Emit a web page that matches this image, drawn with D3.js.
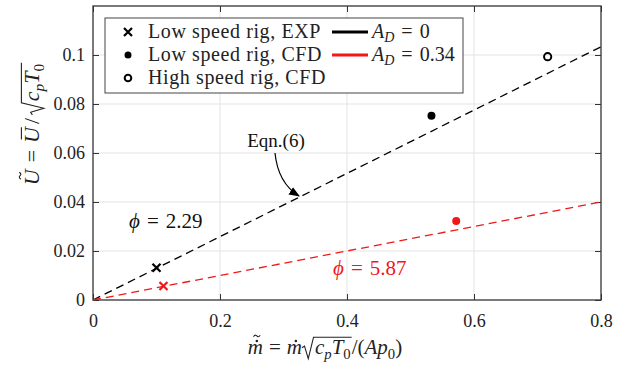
<!DOCTYPE html>
<html>
<head>
<meta charset="utf-8">
<script src="https://cdn.jsdelivr.net/npm/d3@7"></script>
<style>
  body { margin: 0; background: #fff; }
  svg { font-family: "Liberation Serif", "DejaVu Serif", serif; }
  svg text { white-space: pre; }
</style>
</head>
<body>
<svg id="chart" width="626" height="366"></svg>
<script>
// data
var xTicks = [0, 0.2, 0.4, 0.6, 0.8];
var yTicks = [0, 0.02, 0.04, 0.06, 0.08, 0.1];
var slopeNoDiff = 0.1292;   // A_D = 0, phi = 2.29
var slopeDiff = 0.05;       // A_D = 0.34, phi = 5.87
var lineX = [0, 0.8];

var expPts = [ {x: 0.100, y: 0.0132, c: "black"}, {x: 0.111, y: 0.0057, c: "red"} ];
var cfdLowPts = [ {x: 0.533, y: 0.0752, c: "black"}, {x: 0.572, y: 0.0322, c: "red"} ];
var cfdHighPts = [ {x: 0.716, y: 0.0993, c: "black"} ];

var RED = "#f01818";
var FONT = "'Liberation Serif', serif";

var svg = d3.select("#chart");
var margin = {top: 6, right: 25, bottom: 66, left: 93};
var width = 626 - margin.left - margin.right;
var height = 366 - margin.top - margin.bottom;

var x = d3.scaleLinear().domain([0, 0.8]).range([margin.left, margin.left + width]);
var y = d3.scaleLinear().domain([0, 0.12]).range([margin.top + height, margin.top]);

// grid
svg.append("g").selectAll("line").data(xTicks.slice(1, -1)).join("line")
  .attr("x1", d => x(d)).attr("x2", d => x(d))
  .attr("y1", y(0)).attr("y2", y(0.12))
  .attr("stroke", "#e3e3e3").attr("stroke-width", 1);
svg.append("g").selectAll("line").data(yTicks.slice(1)).join("line")
  .attr("x1", x(0)).attr("x2", x(0.8))
  .attr("y1", d => y(d)).attr("y2", d => y(d))
  .attr("stroke", "#e3e3e3").attr("stroke-width", 1);

// axes, ticks pointing inward on all four sides
function styleAxis(g) {
  g.attr("font-family", FONT);
  g.select(".domain").remove();
  g.selectAll("text").attr("font-family", FONT).attr("font-size", 18).attr("fill", "#222");
  g.selectAll("line").attr("stroke", "#333");
}
svg.append("g").attr("transform", "translate(0," + y(0) + ")")
  .call(d3.axisBottom(x).tickValues(xTicks).tickFormat(d3.format("")).tickSizeInner(-6).tickPadding(14))
  .call(styleAxis);
svg.append("g").attr("transform", "translate(0," + y(0.12) + ")")
  .call(d3.axisTop(x).tickValues(xTicks).tickFormat("").tickSizeInner(-6))
  .call(styleAxis);
svg.append("g").attr("transform", "translate(" + x(0) + ",0)")
  .call(d3.axisLeft(y).tickValues(yTicks).tickFormat(d3.format("")).tickSizeInner(-6).tickPadding(8))
  .call(styleAxis);
svg.append("g").attr("transform", "translate(" + x(0.8) + ",0)")
  .call(d3.axisRight(y).tickValues(yTicks).tickFormat("").tickSizeInner(-6))
  .call(styleAxis);

svg.append("rect")
  .attr("x", x(0)).attr("y", y(0.12))
  .attr("width", x(0.8) - x(0)).attr("height", y(0) - y(0.12))
  .attr("fill", "none").attr("stroke", "#333").attr("stroke-width", 1.3);

// dashed fits
var line = d3.line().x(d => x(d[0])).y(d => y(d[1]));
[[slopeNoDiff, "black"], [slopeDiff, RED]].forEach(function(s) {
  svg.append("path")
    .datum(lineX.map(v => [v, v * s[0]]))
    .attr("d", line)
    .attr("fill", "none").attr("stroke", s[1])
    .attr("stroke-width", 1.3).attr("stroke-dasharray", "8,5");
});

// markers
function cross(g, cx, cy, c) {
  var r = 4;
  g.append("path")
    .attr("d", "M" + (cx - r) + "," + (cy - r) + "L" + (cx + r) + "," + (cy + r) +
               "M" + (cx - r) + "," + (cy + r) + "L" + (cx + r) + "," + (cy - r))
    .attr("stroke", c).attr("stroke-width", 2.2).attr("fill", "none");
}
expPts.forEach(d => cross(svg, x(d.x), y(d.y), d.c == "red" ? RED : "#000"));
svg.selectAll(".cfd").data(cfdLowPts).join("circle")
  .attr("cx", d => x(d.x)).attr("cy", d => y(d.y)).attr("r", 4)
  .attr("fill", d => d.c == "red" ? RED : "#000");
svg.selectAll(".hcfd").data(cfdHighPts).join("circle")
  .attr("cx", d => x(d.x)).attr("cy", d => y(d.y)).attr("r", 3.6)
  .attr("fill", "none").attr("stroke", d => d.c).attr("stroke-width", 2);

// small math typesetter, pieces laid out left to right
function mathText(parent, pieces, size, color) {
  var g = parent.append("g");
  var cx = 0, sqrtAt = null;
  pieces.forEach(function(p) {
    if (p.gap) { cx += p.gap; return; }
    if (p.sqrt == "open") { sqrtAt = cx; cx += size * 0.62; return; }
    if (p.sqrt == "close") {
      var t = -size * 0.80;
      g.append("path")
        .attr("d", "M" + (sqrtAt) + "," + (-size * 0.30) + "L" + (sqrtAt + size * 0.12) + "," + (-size * 0.38) +
                   "L" + (sqrtAt + size * 0.30) + "," + (size * 0.22) + "L" + (sqrtAt + size * 0.55) + "," + t +
                   "L" + (cx + 1) + "," + t)
        .attr("fill", "none").attr("stroke", color).attr("stroke-width", 1.1);
      cx += 1;
      return;
    }
    var fs = p.sub ? size * 0.7 : size;
    var dy = p.sub ? size * 0.22 : 0;
    var t = g.append("text").attr("x", cx).attr("y", dy)
      .attr("font-family", FONT)
      .attr("font-size", fs).attr("fill", color)
      .attr("font-style", p.it ? "italic" : "normal").text(p.s);
    var w = t.node().getComputedTextLength();
    var mid = cx + w / 2 + (p.it ? size * 0.07 : 0);
    if (p.bar) {
      g.append("line").attr("x1", mid - w * 0.38).attr("x2", mid + w * 0.38)
        .attr("y1", -size * 0.80).attr("y2", -size * 0.80)
        .attr("stroke", color).attr("stroke-width", 1.1);
    }
    if (p.dot) {
      g.append("circle").attr("cx", mid).attr("cy", -size * p.dot).attr("r", size * 0.06).attr("fill", color);
    }
    if (p.tilde) {
      var a = size * 0.16, ty = -size * p.tilde, b = size * 0.09;
      g.append("path")
        .attr("d", "M" + (mid - a) + "," + (ty + b * 0.4) +
                   "C" + (mid - a * 0.5) + "," + (ty - b) + " " + (mid - a * 0.1) + "," + (ty - b * 0.2) + " " + mid + "," + ty +
                   "S" + (mid + a * 0.5) + "," + (ty + b) + " " + (mid + a) + "," + (ty - b * 0.4))
        .attr("fill", "none").attr("stroke", color).attr("stroke-width", 1.1);
    }
    cx += w;
  });
  g.attr("data-w", cx);
  return g;
}

// legend
var leg = svg.append("g");
leg.append("rect").attr("x", 105).attr("y", 18).attr("width", 358).attr("height", 75)
  .attr("fill", "#fff").attr("stroke", "#444").attr("stroke-width", 1);
var legRows = ["Low speed rig, EXP", "Low speed rig, CFD", "High speed rig, CFD"];
legRows.forEach(function(s, i) {
  var cy = 32 + i * 23;
  if (i == 0) cross(leg, 128, cy, "#000");
  else if (i == 1) leg.append("circle").attr("cx", 128).attr("cy", cy).attr("r", 3.5).attr("fill", "#000");
  else leg.append("circle").attr("cx", 128).attr("cy", cy).attr("r", 3.3).attr("fill", "none").attr("stroke", "#000").attr("stroke-width", 2);
  leg.append("text").attr("x", 148).attr("y", cy + 6).attr("font-family", FONT)
    .attr("font-size", 20).attr("letter-spacing", 0.6).attr("fill", "#222").text(s);
});
[["0", "#000"], ["0.34", RED]].forEach(function(r, i) {
  var cy = 32 + i * 23;
  leg.append("line").attr("x1", 332).attr("x2", 368).attr("y1", cy).attr("y2", cy)
    .attr("stroke", r[1]).attr("stroke-width", 3);
  mathText(leg, [{s: "A", it: true}, {s: "D", it: true, sub: true}, {gap: 7}, {s: "="}, {gap: 7}, {s: r[0]}], 20, "#222")
    .attr("transform", "translate(372," + (cy + 6) + ")");
});

// annotations
svg.append("text").attr("x", 276).attr("y", 147).attr("text-anchor", "middle")
  .attr("font-family", FONT).attr("font-size", 19).attr("fill", "#111").text("Eqn.(6)");
svg.append("defs").append("marker").attr("id", "ah")
  .attr("viewBox", "0 0 10 10").attr("refX", 9).attr("refY", 5)
  .attr("markerWidth", 9).attr("markerHeight", 9).attr("orient", "auto")
  .append("path").attr("d", "M0,1L10,5L0,9Z").attr("fill", "#000");
svg.append("path").attr("d", "M275,153 Q278,183 299,196")
  .attr("fill", "none").attr("stroke", "#000").attr("stroke-width", 1.2)
  .attr("marker-end", "url(#ah)");

mathText(svg, [{s: "ϕ", it: true}, {gap: 7}, {s: "="}, {gap: 7}, {s: "2.29"}], 21, "#111")
  .attr("transform", "translate(129,228)");
mathText(svg, [{s: "ϕ", it: true}, {gap: 7}, {s: "="}, {gap: 7}, {s: "5.87"}], 21, RED)
  .attr("transform", "translate(333,275)");

// axis titles
var xl = mathText(svg, [
  {s: "m", it: true, dot: 0.62, tilde: 0.86}, {gap: 6}, {s: "="}, {gap: 6}, {s: "m", it: true, dot: 0.62},
  {sqrt: "open"}, {s: "c", it: true}, {s: "p", it: true, sub: true}, {s: "T", it: true}, {s: "0", sub: true}, {sqrt: "close"},
  {s: "/("}, {s: "Ap", it: true}, {s: "0", sub: true}, {s: ")"}
], 21, "#222");
xl.attr("transform", "translate(" + (325 - xl.attr("data-w") / 2) + ",354)");

var yl = mathText(svg, [
  {s: "U", it: true, tilde: 0.86}, {gap: 7}, {s: "="}, {gap: 7}, {s: "U", it: true, bar: true}, {gap: 3}, {s: "/"}, {gap: 3},
  {sqrt: "open"}, {s: "c", it: true}, {s: "p", it: true, sub: true}, {s: "T", it: true}, {s: "0", sub: true}, {sqrt: "close"}
], 22, "#222");
yl.attr("transform", "translate(39," + (124 + yl.attr("data-w") / 2) + ") rotate(-90)");
</script>
</body>
</html>
